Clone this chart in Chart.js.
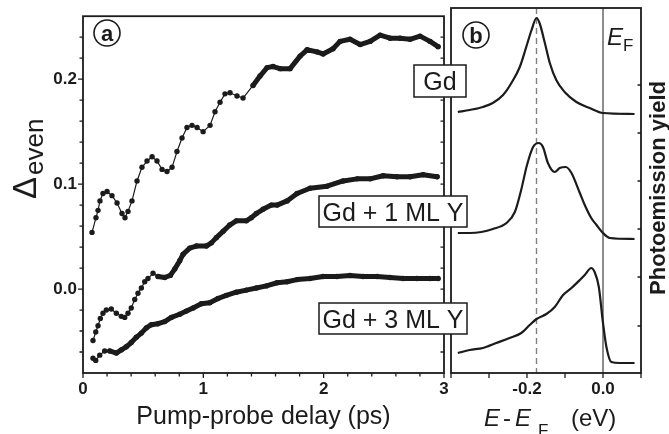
<!DOCTYPE html>
<html><head><meta charset="utf-8">
<script src="https://cdn.jsdelivr.net/npm/chart.js@4.4.0/dist/chart.umd.min.js"></script>
<style>
html,body{margin:0;padding:0;background:#fff;overflow:hidden}
#wrap{position:relative;width:669px;height:434px;background:#fff}
canvas{position:absolute;left:0;top:0}
</style></head>
<body><div id="wrap"><canvas id="ca" width="669" height="434"></canvas><canvas id="cb" width="669" height="434"></canvas></div>
<script>
// ---------- data: panel (a) ----------
const delayGd = [0.075,0.108,0.125,0.141,0.166,0.200,0.241,0.283,0.324,0.349,0.374,0.407,0.449,0.490,0.532,0.574,0.615,0.657,0.698,0.740,0.781,0.823,0.864,0.906,0.948,0.998,1.056,1.097,1.139,1.180,1.222,1.280,1.330,1.413,1.471,1.530,1.580,1.638,1.721,1.804,1.862,1.945,1.995,2.078,2.136,2.219,2.303,2.386,2.469,2.552,2.635,2.718,2.801,2.884,2.951];
const deltaGd = [0.054,0.068,0.075,0.084,0.091,0.093,0.089,0.082,0.072,0.068,0.074,0.084,0.103,0.116,0.122,0.126,0.122,0.114,0.112,0.116,0.131,0.144,0.154,0.156,0.154,0.150,0.156,0.169,0.178,0.186,0.187,0.184,0.182,0.194,0.203,0.211,0.212,0.210,0.210,0.222,0.228,0.226,0.224,0.229,0.236,0.238,0.233,0.236,0.242,0.239,0.239,0.238,0.241,0.236,0.231];
const delay1ML = [0.083,0.106,0.125,0.144,0.166,0.194,0.235,0.277,0.318,0.347,0.374,0.401,0.430,0.457,0.485,0.513,0.540,0.582,0.623,0.679,0.726,0.762,0.804,0.831,0.887,0.942,1.025,1.067,1.108,1.164,1.219,1.274,1.357,1.399,1.441,1.496,1.565,1.613,1.696,1.779,1.887,2.028,2.161,2.278,2.386,2.494,2.610,2.718,2.826,2.943];
const delta1ML = [-0.049,-0.041,-0.035,-0.028,-0.023,-0.020,-0.019,-0.023,-0.026,-0.027,-0.023,-0.018,-0.010,-0.004,0.001,0.007,0.010,0.015,0.012,0.011,0.013,0.019,0.027,0.033,0.039,0.041,0.041,0.044,0.049,0.055,0.061,0.065,0.065,0.068,0.072,0.076,0.080,0.080,0.084,0.091,0.096,0.098,0.103,0.105,0.105,0.108,0.107,0.107,0.109,0.107];
const delay3ML = [0.083,0.106,0.139,0.180,0.222,0.277,0.318,0.360,0.401,0.443,0.485,0.526,0.568,0.623,0.679,0.734,0.804,0.859,0.915,0.983,1.053,1.122,1.191,1.274,1.357,1.441,1.524,1.613,1.696,1.779,1.887,1.995,2.111,2.219,2.328,2.444,2.552,2.660,2.776,2.884,2.951];
const delta3ML = [-0.066,-0.068,-0.063,-0.059,-0.059,-0.061,-0.058,-0.055,-0.051,-0.046,-0.042,-0.037,-0.034,-0.033,-0.031,-0.027,-0.024,-0.021,-0.018,-0.014,-0.013,-0.009,-0.006,-0.003,-0.001,0.001,0.003,0.006,0.007,0.009,0.010,0.012,0.012,0.013,0.012,0.012,0.011,0.010,0.010,0.010,0.010];

const delayTicks = [0,1,2,3];
const delayMinorTicks = [0.2,0.4,0.6,0.8,1.2,1.4,1.6,1.8,2.2,2.4,2.6,2.8];
const deltaTicks = [0,0.1,0.2];
const deltaMinorTicks = [-0.06,-0.04,-0.02,0.02,0.04,0.06,0.08,0.12,0.14,0.16,0.18,0.22,0.24];

// ---------- data: panel (b) ----------
const energyGd = [-0.382,-0.351,-0.316,-0.290,-0.263,-0.241,-0.219,-0.202,-0.188,-0.175,-0.167,-0.153,-0.140,-0.123,-0.101,-0.070,-0.035,0.0,0.083];
const yieldGd = [261,263,266,270,278,290,306,326,343,355,350,330,310,293,281,271,265,260,259];
const energy1ML = [-0.382,-0.351,-0.320,-0.290,-0.254,-0.232,-0.216,-0.200,-0.184,-0.169,-0.158,-0.145,-0.127,-0.114,-0.098,-0.083,-0.061,-0.048,-0.031,-0.017,0.0,0.018,0.083];
const yield1ML = [140,140,141,144,150,161,182,208,226,230,226,210,201,205,206,200,180,168,155,148,140,135,134];
const energy3ML = [-0.382,-0.351,-0.316,-0.281,-0.246,-0.215,-0.193,-0.175,-0.149,-0.127,-0.105,-0.083,-0.061,-0.048,-0.031,-0.022,-0.011,0.0,0.009,0.022,0.044,0.083];
const yield3ML = [20,23,25,30,35,40,48,54,59,66,78,85,93,98,105,101,86,50,26,11,10,10];

const energyTicks = [-0.4,-0.3,-0.2,-0.1,0,0.1];
const energyTickLabels = ['','','-0.2','','0.0',''];
const yieldTicks = [47,96,144,192,240,288];
const peakEnergy = -0.175;
const fermiEnergy = 0;

// ---------- styling ----------
const FONT = '"Liberation Sans", Arial, Helvetica, sans-serif';
const INK = '#1b1b1b';

const framePlugin = {
  id: 'frame',
  beforeDatasetsDraw(chart, args, o) {
    if (!o.markers) return;
    const {ctx, chartArea: a, scales} = chart;
    ctx.save();
    o.markers.forEach(m => {
      const p = scales.x.getPixelForValue(m.value);
      ctx.beginPath();
      ctx.strokeStyle = m.color; ctx.lineWidth = m.width;
      ctx.setLineDash(m.dash || []);
      ctx.moveTo(p, a.top); ctx.lineTo(p, a.bottom); ctx.stroke();
    });
    ctx.restore();
  },
  afterDatasetsDraw(chart, args, o) {
    const {ctx, chartArea: a, scales} = chart;
    const xs = scales.x, ys = scales.y;
    ctx.save();
    ctx.strokeStyle = INK; ctx.lineWidth = 1.3;
    ctx.beginPath();
    const seg = (x1,y1,x2,y2) => { ctx.moveTo(x1,y1); ctx.lineTo(x2,y2); };
    (o.xMajor||[]).forEach(v => { const p = xs.getPixelForValue(v); seg(p,a.bottom,p,a.bottom+5); });
    (o.xMinor||[]).forEach(v => { const p = xs.getPixelForValue(v); seg(p,a.bottom,p,a.bottom+3.5); });
    (o.leftMajor||[]).forEach(v => { const p = ys.getPixelForValue(v); seg(a.left-5,p,a.left,p); });
    (o.leftMinor||[]).forEach(v => { const p = ys.getPixelForValue(v); seg(a.left-3.5,p,a.left,p); });
    (o.rightIn||[]).forEach(v => { const p = ys.getPixelForValue(v); seg(a.right-3.5,p,a.right,p); });
    ctx.stroke();
    ctx.lineWidth = 1.8;
    ctx.strokeRect(a.left, a.top, a.right - a.left, a.bottom - a.top);
    ctx.restore();
  }
};

const notesPlugin = {
  id: 'notes',
  afterDraw(chart) {
    const ctx = chart.ctx;
    ctx.save();
    ctx.fillStyle = INK; ctx.strokeStyle = INK;
    // boxed labels
    [{t:'Gd', x:414, y:65, w:52, h:32}, {t:'Gd + 1 ML Y', x:319, y:196, w:148, h:31}, {t:'Gd + 3 ML Y', x:319, y:303, w:148, h:31}].forEach(b => {
      ctx.fillStyle = '#fff'; ctx.fillRect(b.x, b.y, b.w, b.h);
      ctx.lineWidth = 1.5; ctx.strokeRect(b.x, b.y, b.w, b.h);
      ctx.fillStyle = INK; ctx.font = '25px ' + FONT;
      ctx.textAlign = 'center'; ctx.textBaseline = 'alphabetic';
      ctx.fillText(b.t, b.x + b.w/2, b.y + b.h/2 + 9);
    });
    // circled panel letters
    [{t:'a', x:107, y:33}, {t:'b', x:476, y:35}].forEach(c => {
      ctx.beginPath(); ctx.lineWidth = 1.6; ctx.arc(c.x, c.y, 13, 0, Math.PI*2); ctx.stroke();
      ctx.font = 'bold 22px ' + FONT; ctx.textAlign = 'center'; ctx.textBaseline = 'alphabetic';
      ctx.fillText(c.t, c.x, c.y + 7.5);
    });
    // E_F label
    ctx.textAlign = 'left';
    ctx.font = 'italic 24px ' + FONT; ctx.fillText('E', 607, 45);
    ctx.font = '17px ' + FONT; ctx.fillText('F', 623, 51);
    // x title panel b
    ctx.font = 'italic 24px ' + FONT; ctx.fillText('E', 484, 426);
    ctx.font = '24px ' + FONT; ctx.fillText('-', 503, 426);
    ctx.font = 'italic 24px ' + FONT; ctx.fillText('E', 515, 426);
    ctx.font = '17px ' + FONT; ctx.fillText('F', 538, 436);
    ctx.font = '24px ' + FONT; ctx.fillText('(eV)', 571, 426);
    // y title panel a
    ctx.save();
    ctx.translate(36, 199); ctx.rotate(-Math.PI/2);
    ctx.font = '33px ' + FONT; ctx.fillText('\u0394', 0, 0);
    const wD = ctx.measureText('\u0394').width;
    ctx.font = '26px ' + FONT; ctx.fillText('even', wD + 2, 7);
    ctx.restore();
    // right title
    ctx.save();
    ctx.translate(665, 188); ctx.rotate(-Math.PI/2);
    ctx.textAlign = 'center';
    ctx.font = 'bold 22px ' + FONT; ctx.fillText('Photoemission yield', 0, 0);
    ctx.restore();
    ctx.restore();
  }
};

function delaySet(xs, ys, denseFrom) {
  return {
    data: xs.map((x, i) => ({x, y: ys[i]})),
    borderColor: INK, backgroundColor: INK,
    pointRadius: 2.7, pointBorderWidth: 0, pointHoverRadius: 0,
    borderWidth: 1, tension: 0, borderCapStyle: 'round', borderJoinStyle: 'round',
    segment: { borderWidth: c => xs[c.p0DataIndex] >= denseFrom ? 5 : 1.2 }
  };
}
function specSet(xs, ys) {
  return {
    data: xs.map((x, i) => ({x, y: ys[i]})),
    borderColor: INK, borderWidth: 2.2, pointRadius: 0,
    cubicInterpolationMode: 'monotone', borderJoinStyle: 'round'
  };
}

const tickFont = {family: FONT, size: 17, weight: 'bold'};

new Chart(document.getElementById('ca'), {
  type: 'line',
  data: { datasets: [delaySet(delayGd, deltaGd, 1.35), delaySet(delay1ML, delta1ML, 0.6), delaySet(delay3ML, delta3ML, 0.2)] },
  options: {
    responsive: false, animation: false, devicePixelRatio: 1,
    layout: { padding: {left: 0, right: 225, top: 8, bottom: 0} },
    plugins: {
      legend: {display: false}, tooltip: {enabled: false},
      frame: { xMajor: delayTicks, xMinor: delayMinorTicks, leftMajor: deltaTicks, leftMinor: deltaMinorTicks, rightIn: deltaTicks.concat(deltaMinorTicks) }
    },
    scales: {
      x: {
        type: 'linear', min: 0, max: 3,
        grid: {display: false, drawTicks: false}, border: {display: false},
        afterBuildTicks: s => { s.ticks = delayTicks.map(v => ({value: v})); },
        afterFit: s => { s.height = 61; },
        ticks: {padding: 6, font: tickFont, color: INK, autoSkip: false, maxRotation: 0, callback: v => String(v)},
        title: {display: true, text: 'Pump-probe delay (ps)', font: {family: FONT, size: 25}, color: INK, padding: {top: 0, bottom: 2}}
      },
      y: {
        type: 'linear', min: -0.08, max: 0.26,
        grid: {display: false, drawTicks: false}, border: {display: false},
        afterBuildTicks: s => { s.ticks = deltaTicks.map(v => ({value: v})); },
        afterFit: s => { s.width = 83; },
        ticks: {padding: 6, font: tickFont, color: INK, callback: v => v.toFixed(1)}
      }
    }
  },
  plugins: [framePlugin]
});

new Chart(document.getElementById('cb'), {
  type: 'line',
  data: { datasets: [specSet(energyGd, yieldGd), specSet(energy1ML, yield1ML), specSet(energy3ML, yield3ML)] },
  options: {
    responsive: false, animation: false, devicePixelRatio: 1,
    layout: { padding: {left: 451, right: 28, top: 8, bottom: 0} },
    plugins: {
      legend: {display: false}, tooltip: {enabled: false},
      frame: {
        xMajor: energyTicks, rightIn: yieldTicks,
        markers: [{value: peakEnergy, color: '#808080', width: 1.4, dash: [6, 4]}, {value: fermiEnergy, color: INK, width: 1}]
      }
    },
    scales: {
      x: {
        type: 'linear', min: -0.4, max: 0.1,
        grid: {display: false, drawTicks: false}, border: {display: false},
        afterBuildTicks: s => { s.ticks = energyTicks.map(v => ({value: v})); },
        afterFit: s => { s.height = 61; },
        ticks: {padding: 6, font: tickFont, color: INK, autoSkip: false, maxRotation: 0, callback: (v, i) => energyTickLabels[i]}
      },
      y: { type: 'linear', display: false, min: 0, max: 365 }
    }
  },
  plugins: [framePlugin, notesPlugin]
});
</script>
</body></html>
